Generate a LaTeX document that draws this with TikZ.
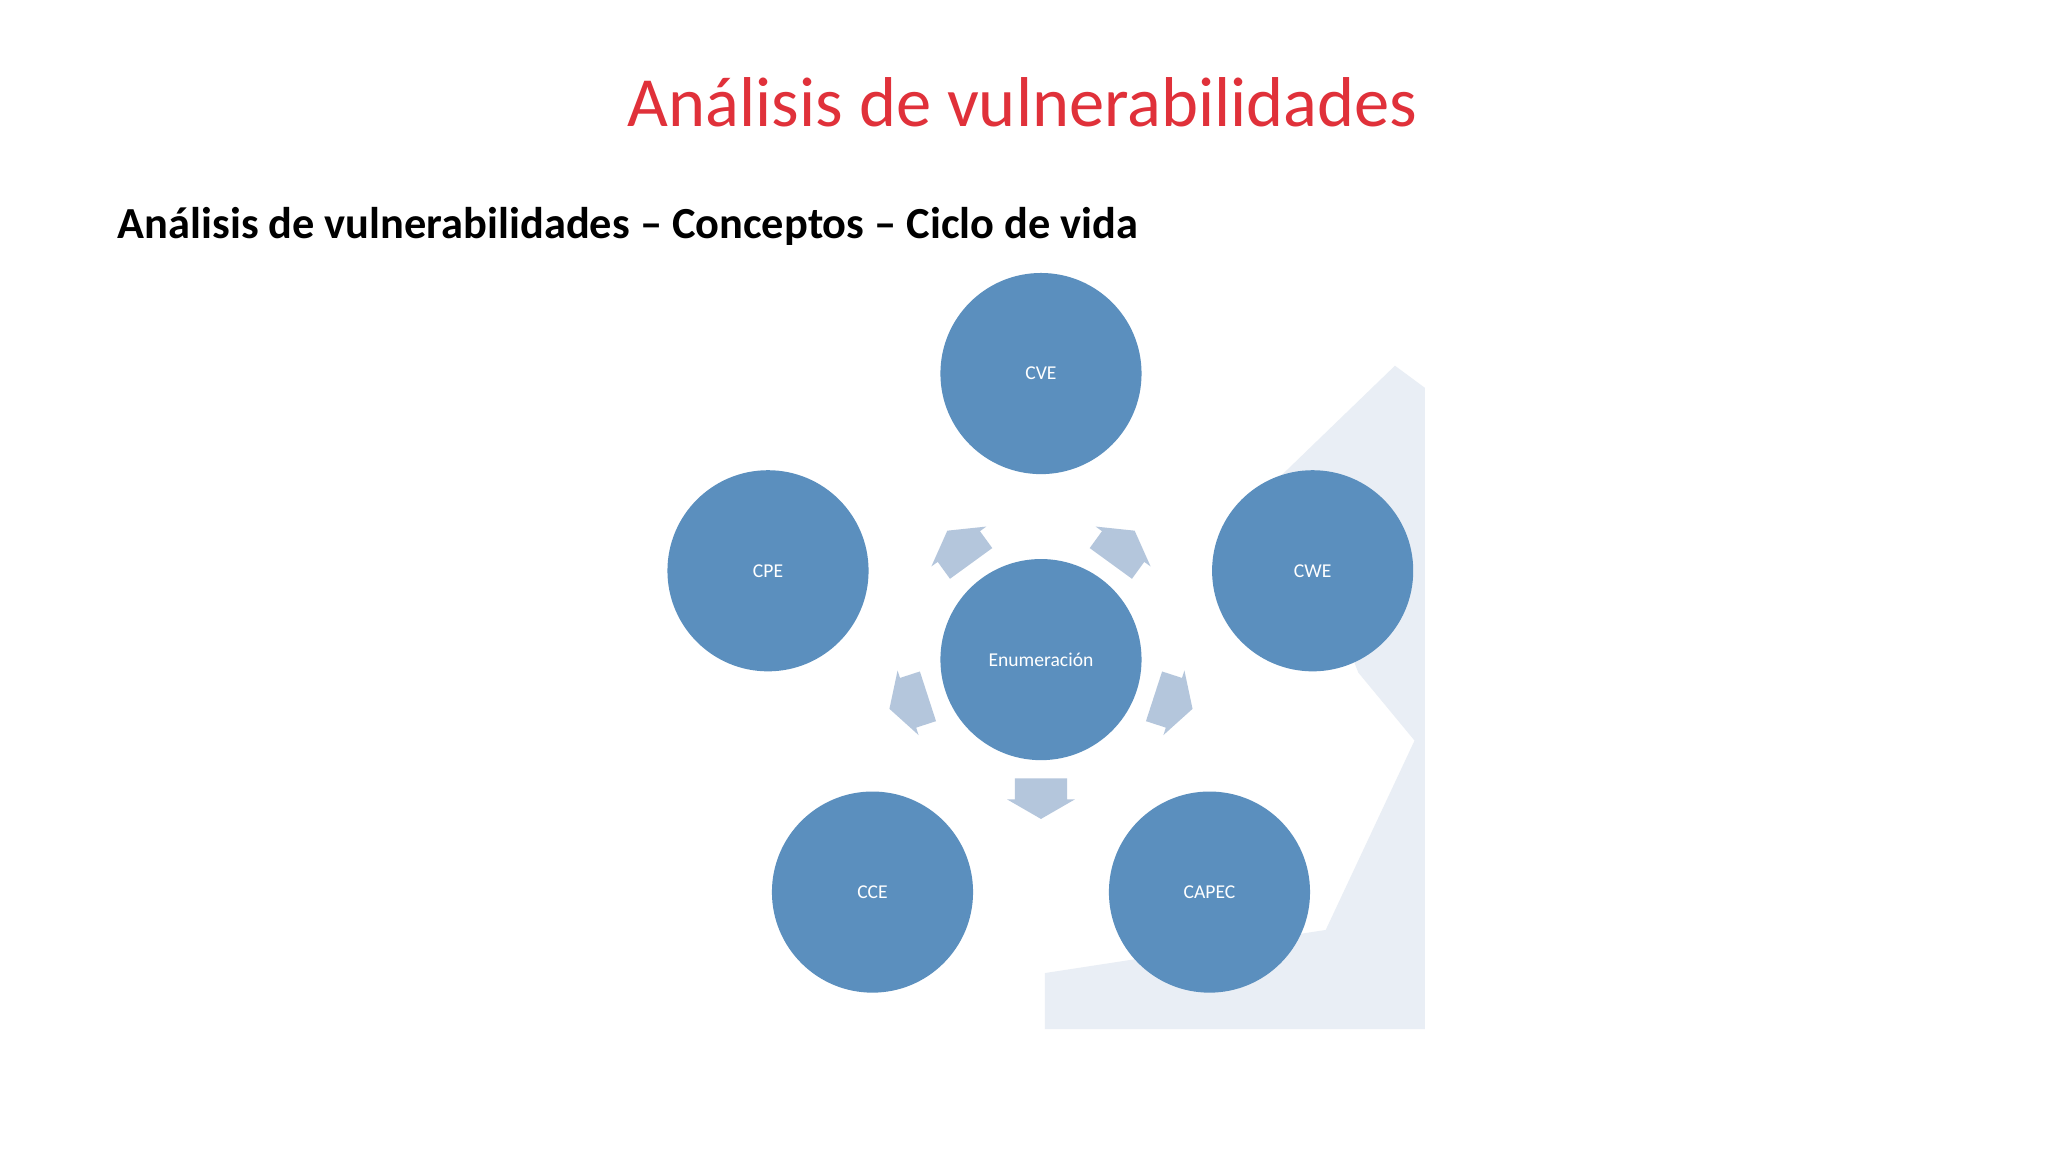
\documentclass[tikz,border=0pt]{standalone}
\usepackage{fontspec}
\setmainfont{Carlito}
\definecolor{circ}{HTML}{5B8FBE}
\definecolor{arr}{HTML}{B4C6DC}
\definecolor{bgs}{HTML}{E9EEF5}
\definecolor{ttl}{HTML}{E0313A}
\begin{document}
\begin{tikzpicture}[x=1pt,y=-1pt,
  circnode/.style={circle,fill=circ,minimum size=154pt,inner sep=0pt,text=white,font=\fontsize{15}{18}\selectfont},
  arrowshape/.style={fill=arr}]
\useasboundingbox (0,0) rectangle (1568,882);
\fill[white] (0,0) rectangle (1568,882);
\fill[bgs] (1068,280) -- (1091,297) -- (1091,788) -- (800,788) -- (800,745) -- (1015,712) -- (1083,567) -- (1040,515) -- (980,365) -- cycle;
\node[text=ttl,font=\fontsize{54}{60}\selectfont] (title) at (783,78) {Análisis de vulnerabilidades};
\node[anchor=west,font=\bfseries\fontsize{34}{40}\selectfont,inner sep=0pt] (sub) at (90,173) {Análisis de vulnerabilidades – Conceptos – Ciclo de vida};
\node[circnode] (enum) at (797,505) {Enumeración};
\node[circnode] (cve) at (797,286) {CVE};
\node[circnode] (cwe) at (1005,437) {CWE};
\node[circnode] (cpe) at (588,437) {CPE};
\node[circnode] (cce) at (668,683) {CCE};
\node[circnode] (capec) at (926,683) {CAPEC};
\foreach \a/\n in {90/a1,18/a2,162/a3,-54/a4,-126/a5}{
  \begin{scope}[shift={(enum.center)},rotate=-\a,shift={(107,0)}]
    \coordinate (\n) at (0,0);
    \fill[arrowshape] (-16,-20) -- (0,-20) -- (0,-26) -- (15,0) -- (0,26) -- (0,20) -- (-16,20) -- cycle;
  \end{scope}
}
\end{tikzpicture}
\end{document}
